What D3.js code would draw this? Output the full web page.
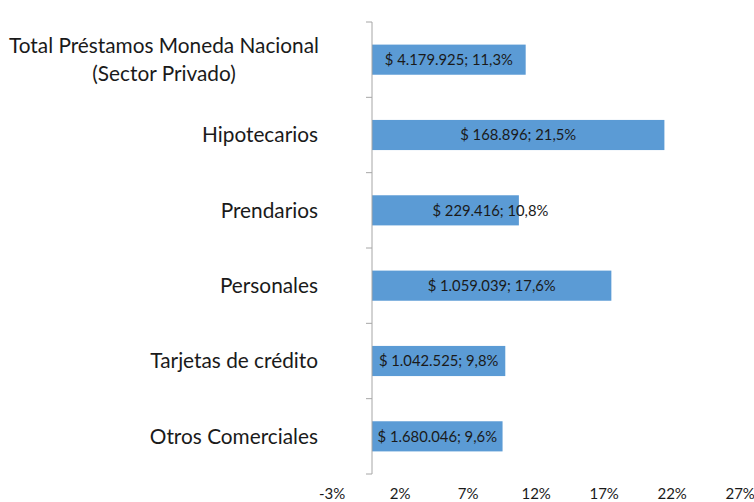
<!DOCTYPE html>
<html><head><meta charset="utf-8">
<script src="https://cdn.jsdelivr.net/npm/d3@7"></script>
<style>body{margin:0;background:#fff}svg{display:block}text{font-family:Lato,"Open Sans",sans-serif;fill:#1a1a1a}</style>
</head><body><svg id="c" width="754" height="502"></svg>
<script>
const categories = ["Total Préstamos Moneda Nacional|(Sector Privado)","Hipotecarios","Prendarios","Personales","Tarjetas de crédito","Otros Comerciales"];
const values = [11.3, 21.5, 10.8, 17.6, 9.8, 9.6];
const amounts = ["$ 4.179.925","$ 168.896","$ 229.416","$ 1.059.039","$ 1.042.525","$ 1.680.046"];
const pctLabels = ["11,3%","21,5%","10,8%","17,6%","9,8%","9,6%"];
const tickValues = [-3, 2, 7, 12, 17, 22, 27];

const svg = d3.select("#c");
const x = d3.scaleLinear().domain([-3, 27]).range([331.2, 739.2]);
const y = d3.scaleBand().domain(categories).range([22, 474]).paddingInner(0.6).paddingOuter(0.3);
const step = y.step();

// bars
svg.selectAll("rect.bar").data(categories).join("rect")
  .attr("x", x(0)).attr("y", d => y(d))
  .attr("width", (d,i) => x(values[i]) - x(0)).attr("height", y.bandwidth())
  .attr("fill", "#5B9BD5");

// vertical axis
svg.append("line").attr("x1", x(0)).attr("x2", x(0)).attr("y1", 22).attr("y2", 474)
  .attr("stroke", "#A6A6A6").attr("stroke-width", 1);
for (let i = 0; i <= categories.length; i++) {
  const yy = 22 + i * step;
  svg.append("line").attr("x1", x(0) - 6).attr("x2", x(0)).attr("y1", yy).attr("y2", yy)
    .attr("stroke", "#A6A6A6").attr("stroke-width", 1);
}

// category labels
categories.forEach((c, i) => {
  const lines = c.split("|");
  const cy = y(c) + y.bandwidth() / 2;
  const t = svg.append("text").attr("text-anchor", lines.length > 1 ? "middle" : "end")
    .attr("font-size", 20.8);
  lines.forEach((l, k) => {
    t.append("tspan").attr("x", lines.length > 1 ? 164 : 318)
      .attr("y", cy + (k - (lines.length - 1) / 2) * 28).attr("dy", "0.35em").text(l);
  });
});

// data labels
const labelDx = [0, 0, 45, 0, 0, 0];
categories.forEach((c, i) => {
  svg.append("text").attr("text-anchor", "middle").attr("font-size", 14.8)
    .attr("x", (x(0) + x(values[i])) / 2 + labelDx[i])
    .attr("y", y(c) + y.bandwidth() / 2).attr("dy", "0.35em")
    .text(amounts[i] + "; " + pctLabels[i]);
});

// x tick labels
svg.selectAll("text.xt").data(tickValues).join("text")
  .attr("text-anchor", "middle").attr("font-size", 15)
  .attr("x", d => x(d) + 1).attr("y", 494).attr("dy", "0.35em")
  .text(d => d + "%");
</script></body></html>
